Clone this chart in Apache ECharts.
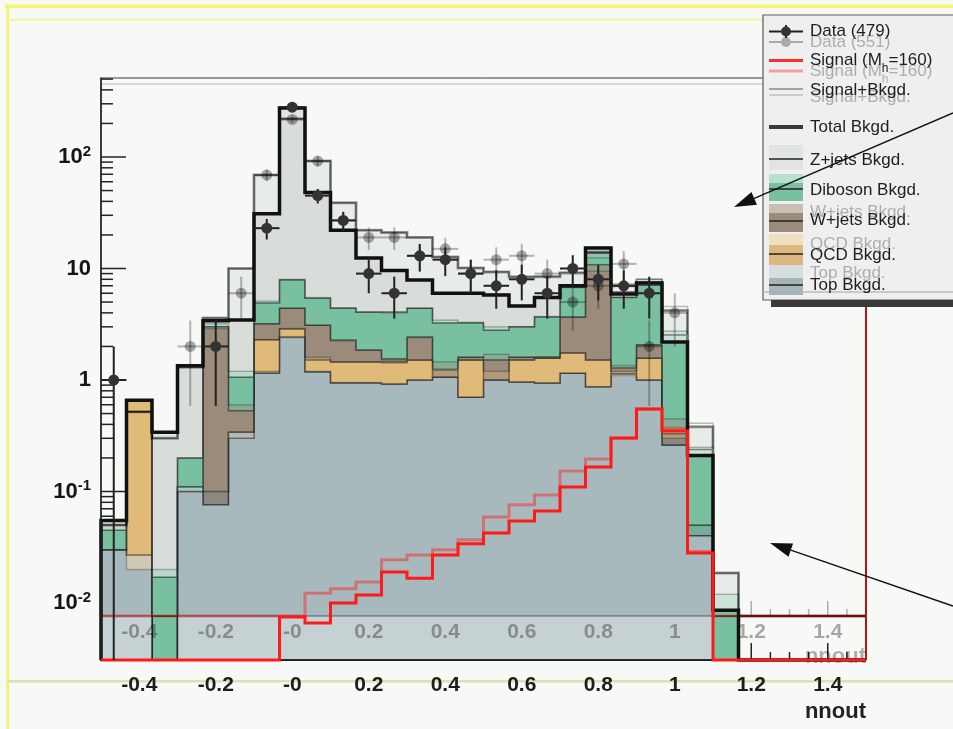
<!DOCTYPE html>
<html>
<head>
<meta charset="utf-8">
<script src="https://cdn.jsdelivr.net/npm/echarts@6.0.0/dist/echarts.min.js"></script>
<style>
html,body{margin:0;padding:0;background:#f6f9f6;overflow:hidden}
#chart{width:953px;height:729px}
</style>
</head>
<body>
<div id="chart"></div>
<script>
// ---------------- data ----------------
const nBins = 30;
const xLow = -0.5;
const binWidth = 2 / 30;
const xTickLabels = [-0.4, -0.2, 0, 0.2, 0.4, 0.6, 0.8, 1, 1.2, 1.4];
const yTickLabels = [0.01, 0.1, 1, 10, 100];

// main (dark) plot : stacked backgrounds, bottom -> top
const darkTop     = [0.03,0.027,0,0.11,0.076,0.34,1.15,2.43,1.18,0.94,0.94,0.92,1.0,1.06,0.7,1.0,0.96,0.94,1.15,0.87,1.13,1.0,0.26,0.04,0,0,0,0,0,0];
const darkQCD     = [0,0.63,0,0,0,0,1.15,0.43,0.33,0.51,0.51,0.53,0.51,0,0.81,0,0.55,0.63,0.6,0.64,0,0.57,0,0,0,0,0,0,0,0];
const darkWjets   = [0,0,0,0,2.92,0.19,0.9,1.54,1.59,0.83,0.41,0.1,0.92,0.17,0.09,0.51,0.09,0.03,1.92,9.29,0.15,0.49,0.07,0,0,0,0,0,0,0];
const darkDiboson = [0.015,0,0.017,0.09,0,0.53,1.7,3.5,2.3,2.12,2.21,2.52,1.97,2.02,1.65,1.29,1.4,2.07,3.13,3.0,4.22,5.04,1.86,0.17,0.0086,0,0,0,0,0];
const darkZjets   = [0.01,0,0.323,1.14,0.4,2.39,26.1,267,42.6,17.6,8.33,5.53,3.5,2.75,2.75,3.0,1.6,1.83,0.2,1.5,0.4,0.3,0,0,0,0,0,0,0,0];
const darkSignal  = [0,0,0,0,0,0,0,0.0075,0.0066,0.0100,0.0118,0.019,0.0167,0.027,0.034,0.0425,0.0544,0.0669,0.110,0.166,0.302,0.55,0.349,0.0281,0,0,0,0,0,0];
const darkData    = [1,0,0,0,2,0,23,280,45,27,9,6,13,12,9,7,8,6,10,8,7,6,0,0,0,0,0,0,0,0];

// faded overlay plot
const lightTop     = [0.03,0.02,0,0.1,0.1,0.3,1.2,2.4,1.2,0.95,0.95,0.92,1.0,1.06,0.7,1.0,0.96,0.94,1.15,0.87,1.1,1.0,0.3,0.05,0.004,0,0,0,0,0];
const lightQCD     = [0,0.5,0,0,0,0,1.1,0.5,0.4,0.5,0.5,0.5,0.5,0.2,0.8,0.2,0.55,0.63,0.6,0.64,0.1,0.57,0.05,0,0,0,0,0,0,0];
const lightWjets   = [0,0,0,0,2.8,0.3,0.9,1.5,1.5,0.8,0.4,0.1,0.9,0.2,0.1,0.5,0.1,0.05,1.9,8.0,0.15,0.5,0.1,0,0,0,0,0,0,0];
const lightDiboson = [0.02,0,0.02,0.1,0.3,0.6,1.9,3.6,2.4,2.2,2.2,2.5,2.0,2.0,1.7,1.3,1.4,2.1,3.1,3.0,4.2,5.0,2.3,0.2,0.008,0,0,0,0,0];
const lightZjets   = [0,0,0.28,1.1,0.4,8.8,64,212,86.5,34.5,18,17,14.6,9.2,6.8,6.3,5.4,4.7,2.35,1.5,1.45,0.43,1.45,0.13,0.0066,0,0,0,0,0];
const lightSignal  = [0,0,0,0,0,0,0,0,0.0122,0.0134,0.0154,0.0244,0.027,0.030,0.037,0.059,0.076,0.093,0.153,0.196,0.30,0.55,0.37,0.029,0,0,0,0,0,0];
const lightData    = [0,0,0,2,0,6,69,217,92,27,19,19,13,15,9,12,13,9,5,7,11,2,4,0,0,0,0,0,0,0];

// ---------------- layout / styling ----------------
const FONT = '"Liberation Sans", Arial, sans-serif';
const xHigh = xLow + nBins * binWidth;
const yDarkMin = Math.pow(10, -2.5112), yDarkMax = Math.pow(10, 2.7085);
const yLightMin = Math.pow(10, -2.1166), yLightMax = Math.pow(10, 2.6547);

function cumulate(layers) {
  const out = []; let run = new Array(nBins).fill(0);
  layers.forEach(l => { run = run.map((v, i) => v + l[i]); out.push(run.slice()); });
  return out;
}
const darkCum = cumulate([darkTop, darkQCD, darkWjets, darkDiboson, darkZjets]);
const lightCum = cumulate([lightTop, lightQCD, lightWjets, lightDiboson, lightZjets]);
const darkTotal = darkCum[4];
const lightTotal = lightCum[4];
const darkSB = darkTotal.map((v, i) => v + darkSignal[i]);
const lightSB = lightTotal.map((v, i) => v + lightSignal[i]);

const binL = i => xLow + i * binWidth;
function stepTop(api, vals, yMin) {
  const pts = [];
  for (let i = 0; i < nBins; i++) {
    const v = Math.max(vals[i], yMin);
    pts.push(api.coord([binL(i), v]), api.coord([binL(i + 1), v]));
  }
  return pts;
}
function histOutline(api, vals, yMin) {
  return [api.coord([xLow, yMin])].concat(stepTop(api, vals, yMin), [api.coord([xHigh, yMin])]);
}

const darkColors = ['#c5d1d3', '#e0bb78', '#9a8b7c', '#78c0a0', '#e0e4e2'];
const lightColors = ['rgba(104,129,138,0.30)', 'rgba(224,187,120,0.35)', 'rgba(154,139,124,0.35)', 'rgba(120,192,160,0.35)', 'rgba(200,206,200,0.30)'];

function darkStackSeries() {
  return {
    type: 'custom', xAxisIndex: 0, yAxisIndex: 0, z: 2, silent: true,
    data: [4, 3, 2, 1, 0].map(k => [0.5, 1, k]), encode: { x: 0, y: 1 },
    renderItem: (p, api) => {
      const k = api.value(2);
      return { type: 'polygon', shape: { points: histOutline(api, darkCum[k], yDarkMin) },
        style: { fill: darkColors[k], stroke: 'rgba(30,30,30,0.85)', lineWidth: 1.5 } };
    }
  };
}
function lightStackSeries() {
  return {
    type: 'custom', xAxisIndex: 1, yAxisIndex: 1, z: 3, silent: true,
    data: [0, 1, 2, 3, 4].map(k => [0.5, 1, k]), encode: { x: 0, y: 1 },
    renderItem: (p, api) => {
      const k = api.value(2);
      const up = lightCum[k];
      const lo = k > 0 ? lightCum[k - 1] : new Array(nBins).fill(0);
      const upper = stepTop(api, up, yLightMin);
      const lower = stepTop(api, lo, yLightMin).reverse();
      return { type: 'group', children: [
        { type: 'polygon', shape: { points: upper.concat(lower) }, style: { fill: lightColors[k] } },
        { type: 'polyline', shape: { points: histOutline(api, up, yLightMin) }, style: { fill: null, stroke: 'rgba(0,0,0,0.28)', lineWidth: 1.5 } }
      ] };
    }
  };
}
function lineSeries(vals, xi, yi, yMin, color, width, z) {
  return {
    type: 'custom', xAxisIndex: xi, yAxisIndex: yi, z, silent: true,
    data: [[0.5, 1]], encode: { x: 0, y: 1 },
    renderItem: (p, api) => ({ type: 'polyline', shape: { points: histOutline(api, vals, yMin) },
      style: { fill: null, stroke: color, lineWidth: width, lineJoin: 'miter' } })
  };
}
function dataSeries(vals, xi, yi, yMin, fill, lineColor, z) {
  const pts = [];
  vals.forEach((n, i) => { if (n > 0) pts.push([xLow + (i + 0.5) * binWidth, n]); });
  return {
    type: 'custom', xAxisIndex: xi, yAxisIndex: yi, z, silent: true,
    data: pts, encode: { x: 0, y: 1 },
    renderItem: (p, api) => {
      const x = api.value(0), n = api.value(1), e = Math.sqrt(n);
      const c = api.coord([x, n]);
      const lo = api.coord([x, Math.max(n - e, yMin)]), hi = api.coord([x, n + e]);
      const l = api.coord([x - binWidth / 2, n]), r = api.coord([x + binWidth / 2, n]);
      return { type: 'group', children: [
        { type: 'line', shape: { x1: lo[0], y1: lo[1], x2: hi[0], y2: hi[1] }, style: { stroke: lineColor, lineWidth: 2 } },
        { type: 'line', shape: { x1: l[0], y1: l[1], x2: r[0], y2: r[1] }, style: { stroke: lineColor, lineWidth: 2 } },
        { type: 'circle', shape: { cx: c[0], cy: c[1], r: 5.5 }, style: { fill } }
      ] };
    }
  };
}
function tickSeries(xi, yi, yMin, yMax, color, withY, majX, minX, z) {
  return {
    type: 'custom', xAxisIndex: xi, yAxisIndex: yi, z, silent: true,
    data: [[0.5, 1]], encode: { x: 0, y: 1 },
    renderItem: (p, api) => {
      const ch = [];
      if (withY) {
        for (let e = -3; e <= 2; e++) for (let m = 1; m <= 9; m++) {
          const v = m * Math.pow(10, e);
          if (v < yMin || v > yMax) continue;
          const c = api.coord([xLow, v]); const len = m === 1 ? 25 : 12;
          ch.push({ type: 'line', shape: { x1: c[0], y1: c[1], x2: c[0] + len, y2: c[1] }, style: { stroke: color, lineWidth: 1.5 } });
        }
      }
      for (let k = 1; k < 40; k++) {
        const x = xLow + k * 0.05;
        const major = Math.abs(x / 0.2 - Math.round(x / 0.2)) < 1e-6;
        const c = api.coord([x, yMin]); const len = major ? majX : minX;
        ch.push({ type: 'line', shape: { x1: c[0], y1: c[1], x2: c[0], y2: c[1] - len }, style: { stroke: color, lineWidth: 1.5 } });
      }
      return { type: 'group', children: ch };
    }
  };
}

const xFmt = v => Math.abs(v) < 1e-9 ? '-0' : String(Math.round(v * 10) / 10);
const yFmt = v => {
  const lg = Math.log10(v), e = Math.round(lg);
  if (Math.abs(lg - e) > 1e-6) return '';
  if (e === 0) return '{b|1}';
  if (e === 1) return '{b|10}';
  return '{b|10}{s|' + e + '}';
};

// ---------------- legend / decorations ----------------
const legDark = [
  ['Data (479)', 31.5], [null, 60], ['Signal+Bkgd.', 90], ['Total Bkgd.', 127], ['Z+jets Bkgd.', 160],
  ['Diboson Bkgd.', 190], ['W+jets Bkgd.', 220], ['QCD Bkgd.', 255], ['Top Bkgd.', 285]
];
const legLight = [
  ['Data (551)', 42], [null, 71], ['Signal+Bkgd.', 97], ['W+jets Bkgd.', 212], ['QCD Bkgd.', 244], ['Top Bkgd.', 273]
];
function legTexts(list, color, z) {
  return list.map(([t, y]) => t !== null
    ? { type: 'text', z, silent: true, style: { text: t, x: 810, y, fill: color, fontSize: 17, fontFamily: FONT, verticalAlign: 'middle', align: 'left' } }
    : { type: 'text', z, silent: true, style: { text: '{a|Signal (M}{b|h}{a|=160)}', x: 810, y, fill: color, verticalAlign: 'middle', align: 'left',
        rich: { a: { fontSize: 17, fontFamily: FONT, lineHeight: 30, fill: color }, b: { fontSize: 12, fontFamily: FONT, lineHeight: 14, verticalAlign: 'bottom', fill: color } } } });
}
function box(y0, y1, fill, z) { return { type: 'rect', z, silent: true, shape: { x: 769, y: y0, width: 34, height: y1 - y0 }, style: { fill } }; }
function hline(y, stroke, w, z) { return { type: 'line', z, silent: true, shape: { x1: 769, y1: y, x2: 803, y2: y }, style: { stroke, lineWidth: w } }; }
function arrow(x0, y0, x1, y1) {
  const dx = x1 - x0, dy = y1 - y0, L = Math.hypot(dx, dy), ux = dx / L, uy = dy / L;
  const bx = x1 - 22 * ux, by = y1 - 22 * uy, px = -uy * 7, py = ux * 7;
  return [
    { type: 'line', z: 40, silent: true, shape: { x1: x0, y1: y0, x2: bx, y2: by }, style: { stroke: '#111', lineWidth: 1.5 } },
    { type: 'polygon', z: 40, silent: true, shape: { points: [[x1, y1], [bx + px, by + py], [bx - px, by - py]] }, style: { fill: '#111' } }
  ];
}

const graphics = [
  { type: 'rect', z: 0, silent: true, shape: { x: 5, y: 4.5, width: 948, height: 3.5 }, style: { fill: '#f6f66c' } },
  { type: 'rect', z: 0, silent: true, shape: { x: 6.5, y: 5, width: 2.5, height: 724 }, style: { fill: '#f3f35e' } },
  { type: 'rect', z: 0, silent: true, shape: { x: 7, y: 18.5, width: 946, height: 2.5 }, style: { fill: '#f3f3b4' } },
  { type: 'rect', z: 0, silent: true, shape: { x: 7, y: 680, width: 946, height: 2.5 }, style: { fill: '#e0e0ae' } },
  { type: 'text', z: 8, silent: true, style: { text: 'nnout', x: 866, y: 712, align: 'right', verticalAlign: 'middle', fontSize: 22, fontWeight: 'bold', fontFamily: FONT, fill: '#222' } },
  { type: 'text', z: 5, silent: true, style: { text: 'nnout', x: 866, y: 657, align: 'right', verticalAlign: 'middle', fontSize: 22, fontWeight: 'bold', fontFamily: FONT, fill: 'rgba(0,0,0,0.3)' } },
  { type: 'line', z: 9, silent: true, shape: { x1: 866, y1: 300, x2: 866, y2: 660 }, style: { stroke: '#b81414', lineWidth: 2 } },
  // legend frame
  { type: 'rect', z: 30, silent: true, shape: { x: 763, y: 15, width: 200, height: 285 }, style: { fill: '#efefef', stroke: '#5a5a5a', lineWidth: 1.2 } },
  { type: 'line', z: 30, silent: true, shape: { x1: 763, y1: 292, x2: 953, y2: 292 }, style: { stroke: '#bdbdbd', lineWidth: 1.5 } },
  { type: 'rect', z: 30, silent: true, shape: { x: 771, y: 300, width: 190, height: 7 }, style: { fill: '#3a3a3a' } },
  // legend symbols
  box(145, 170, '#e0e4e2', 31),
  box(174, 183, '#b8e0cc', 31), box(183, 201, '#78c0a0', 31),
  box(204, 213, '#c8beb2', 31), box(213, 232, '#9a8b7c', 31),
  box(234, 245, '#efe0c0', 31), box(245, 265, '#dcb880', 31),
  box(265, 278, '#d6dede', 31), box(278, 295, '#a6b5b9', 31),
  hline(159, '#222', 1.5, 32), hline(189, '#222', 1.5, 32), hline(221, '#222', 1.5, 32), hline(254, '#222', 1.5, 32), hline(285, '#222', 1.5, 32),
  hline(31.5, '#222', 2, 32), { type: 'line', z: 32, silent: true, shape: { x1: 786, y1: 25, x2: 786, y2: 38 }, style: { stroke: '#222', lineWidth: 2 } },
  { type: 'circle', z: 32, silent: true, shape: { cx: 786, cy: 31.5, r: 5 }, style: { fill: '#333' } },
  hline(42, '#aaa', 2, 31), { type: 'circle', z: 31, silent: true, shape: { cx: 786, cy: 42, r: 5 }, style: { fill: '#aaa' } },
  hline(60.5, '#ff2a2a', 3, 32), hline(71, '#f5a0a0', 3, 31),
  hline(89, '#8a8a8a', 1.5, 32), hline(95, '#c0c0c0', 1.5, 31),
  hline(127, '#3a3a3a', 4, 32)
].concat(legTexts(legLight, '#adadad', 31), legTexts(legDark, '#1e1e1e', 33),
  arrow(953, 113, 734, 207), arrow(953, 606, 770, 543));

// ---------------- chart ----------------
const chart = echarts.init(document.getElementById('chart'));
chart.setOption({
  animation: false,
  backgroundColor: '#f6f9f6',
  textStyle: { fontFamily: FONT },
  grid: [
    { left: 101, right: 87, top: 78, bottom: 69, show: true, borderColor: '#3a3a3a', borderWidth: 1, backgroundColor: 'transparent' },
    { left: 101, right: 87, top: 84, bottom: 113, show: true, borderColor: 'rgba(0,0,0,0.25)', borderWidth: 1, backgroundColor: 'transparent' }
  ],
  xAxis: [
    { gridIndex: 0, type: 'value', min: xLow, max: xHigh, z: 6, splitLine: { show: false },
      axisLine: { onZero: false, lineStyle: { color: '#222', width: 1.5 } }, axisTick: { show: false },
      axisLabel: { customValues: xTickLabels, formatter: xFmt, fontSize: 21, lineHeight: 21, fontWeight: 'bold', color: '#1d1d1d', margin: 15, fontFamily: FONT } },
    { gridIndex: 1, type: 'value', min: xLow, max: xHigh, z: 5, splitLine: { show: false },
      axisLine: { onZero: false, lineStyle: { color: 'rgba(0,0,0,0.35)', width: 1.5 } }, axisTick: { show: false },
      axisLabel: { customValues: xTickLabels, formatter: xFmt, fontSize: 21, lineHeight: 21, fontWeight: 'bold', color: 'rgba(0,0,0,0.33)', margin: 6, fontFamily: FONT } }
  ],
  yAxis: [
    { gridIndex: 0, type: 'log', logBase: 10, min: yDarkMin, max: yDarkMax, z: 6, splitLine: { show: false },
      axisLine: { onZero: false, lineStyle: { color: '#222', width: 1.5 } }, axisTick: { show: false },
      axisLabel: { formatter: yFmt, margin: 10, showMinLabel: false, showMaxLabel: false,
        rich: { b: { fontSize: 22, fontWeight: 'bold', fontFamily: FONT, color: '#151515', lineHeight: 26 },
                s: { fontSize: 15, fontWeight: 'bold', fontFamily: FONT, color: '#151515', lineHeight: 12, verticalAlign: 'top' } } } },
    { gridIndex: 1, type: 'log', logBase: 10, min: yLightMin, max: yLightMax, splitLine: { show: false },
      axisLine: { show: false, onZero: false }, axisTick: { show: false }, axisLabel: { show: false } }
  ],
  graphic: graphics,
  series: [
    tickSeries(0, 0, yDarkMin, yDarkMax, '#222', true, 17, 8, 1),
    tickSeries(1, 1, yLightMin, yLightMax, 'rgba(0,0,0,0.3)', false, 15, 7, 1),
    darkStackSeries(),
    lightStackSeries(),
    lineSeries(lightSB, 1, 1, yLightMin, 'rgba(0,0,0,0.25)', 1.5, 4),
    lineSeries(lightTotal, 1, 1, yLightMin, 'rgba(0,0,0,0.33)', 3, 4),
    lineSeries(lightSignal, 1, 1, yLightMin, 'rgba(255,20,20,0.42)', 3, 4),
    dataSeries(lightData, 1, 1, yLightMin, 'rgba(0,0,0,0.33)', 'rgba(0,0,0,0.28)', 4),
    lineSeries(darkSB, 0, 0, yDarkMin, '#7a7a7a', 1.5, 6),
    lineSeries(darkTotal, 0, 0, yDarkMin, '#111', 3.5, 6),
    lineSeries(darkSignal, 0, 0, yDarkMin, '#ff1a1a', 3, 7),
    dataSeries(darkData, 0, 0, yDarkMin, '#333', '#222', 8)
  ]
});
</script>
</body>
</html>
